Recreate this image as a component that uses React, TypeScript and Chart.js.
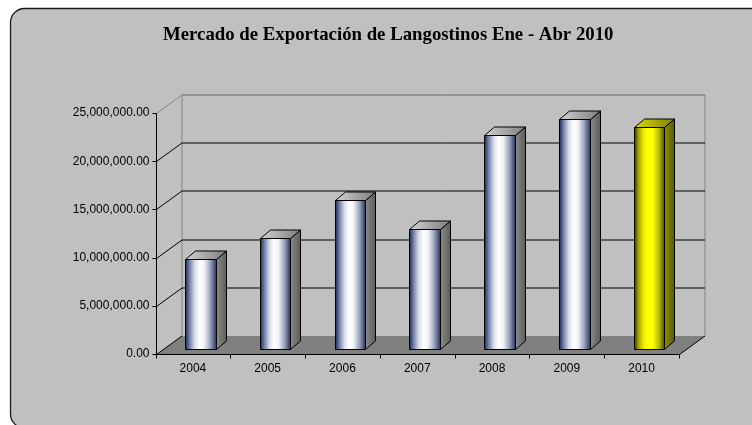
import { useEffect, useRef } from "react";
import { Chart, registerables } from "chart.js";

Chart.register(...registerables);

const TITLE = "Mercado de Exportación de Langostinos Ene - Abr 2010";
const YEARS = ["2004", "2005", "2006", "2007", "2008", "2009", "2010"];
const EXPORTS = [9300000, 11450000, 15400000, 12450000, 22200000, 23850000, 23000000];
const Y_MAX = 25000000;
const Y_STEP = 5000000;
const HIGHLIGHT_YEAR = "2010";

// 3D look parameters (styles / geometry, not data)
const DEPTH_X = 25.5;
const DEPTH_Y = 18.5;
const BAR_FRONT = 0.29;
const BAR_DX = 10;
const BAR_DY = 8.5;

const SILVER = {
  front: [
    [0, "#1b2856"],
    [0.12, "#6d7ca3"],
    [0.3, "#d8dce6"],
    [0.45, "#ffffff"],
    [0.6, "#f2f3f6"],
    [0.8, "#9aa3bd"],
    [1, "#26325e"],
  ],
  side: ["#8a8a8a", "#5c5c5c"],
  top: ["#d2d2d2", "#7c7c7c"],
};
const YELLOW = {
  front: [
    [0, "#3c3c00"],
    [0.14, "#a8a800"],
    [0.32, "#f0f000"],
    [0.45, "#ffff00"],
    [0.6, "#ffff10"],
    [0.82, "#b8b800"],
    [1, "#4a4a00"],
  ],
  side: ["#8c8c00", "#5a5a00"],
  top: ["#d8d800", "#808000"],
};

function poly(ctx: CanvasRenderingContext2D, pts: number[][]) {
  ctx.beginPath();
  ctx.moveTo(pts[0][0], pts[0][1]);
  for (let i = 1; i < pts.length; i++) ctx.lineTo(pts[i][0], pts[i][1]);
  ctx.closePath();
}

function line(ctx: CanvasRenderingContext2D, pts: number[][], color: string) {
  ctx.beginPath();
  ctx.moveTo(pts[0][0], pts[0][1]);
  for (let i = 1; i < pts.length; i++) ctx.lineTo(pts[i][0], pts[i][1]);
  ctx.strokeStyle = color;
  ctx.lineWidth = 1;
  ctx.stroke();
}

const scenePlugin = {
  id: "scene3d",
  beforeDraw(chart: any) {
    const { ctx, width, height } = chart;
    ctx.save();
    ctx.fillStyle = "#ffffff";
    ctx.fillRect(0, 0, width, height);
    const x0 = 10.5, y0 = 8.5, x1 = width + 14, y1 = height + 3;
    ctx.beginPath();
    ctx.roundRect(x0, y0, x1 - x0, y1 - y0, 14);
    ctx.fillStyle = "#c0c0c0";
    ctx.fill();
    ctx.lineWidth = 1.3;
    ctx.strokeStyle = "#1a1a1a";
    ctx.stroke();
    ctx.font = 'bold 18.8px "Liberation Serif"';
    ctx.fillStyle = "#000000";
    ctx.textAlign = "center";
    ctx.textBaseline = "alphabetic";
    ctx.fillText(TITLE, (x0 + x1) / 2, 40);
    ctx.restore();
  },
  beforeDatasetsDraw(chart: any) {
    const { ctx } = chart;
    const xs = chart.scales.x;
    const ys = chart.scales.y;
    const L = Math.round(xs.left) + 0.5;
    const R = Math.round(xs.right) + 0.5;
    const B = Math.round(ys.getPixelForValue(0)) + 0.5;
    const T = Math.round(ys.getPixelForValue(Y_MAX)) + 0.5;
    ctx.save();
    // floor
    poly(ctx, [[L, B], [R, B], [R + DEPTH_X, B - DEPTH_Y], [L + DEPTH_X, B - DEPTH_Y]]);
    ctx.fillStyle = "#808080";
    ctx.fill();
    // back wall border
    line(ctx, [[L + DEPTH_X, B - DEPTH_Y], [L + DEPTH_X, T - DEPTH_Y], [R + DEPTH_X, T - DEPTH_Y], [R + DEPTH_X, B - DEPTH_Y]], "#858585");
    // grid lines
    ys.ticks.forEach((t: any) => {
      if (t.value === 0) return;
      const y = Math.round(ys.getPixelForValue(t.value)) + 0.5;
      const c = t.value >= Y_MAX ? "#858585" : "#000000";
      line(ctx, [[L, y], [L + DEPTH_X, y - DEPTH_Y], [R + DEPTH_X, y - DEPTH_Y]], c);
    });
    // floor edges
    line(ctx, [[L, B], [L + DEPTH_X, B - DEPTH_Y]], "#000000");
    line(ctx, [[R, B], [R + DEPTH_X, B - DEPTH_Y]], "#000000");
    // axes
    line(ctx, [[L, T], [L, B], [R, B]], "#000000");
    ys.ticks.forEach((t: any) => {
      const y = Math.round(ys.getPixelForValue(t.value)) + 0.5;
      line(ctx, [[L - 4, y], [L, y]], "#000000");
    });
    const n = YEARS.length;
    for (let i = 0; i <= n; i++) {
      const bx = Math.round(xs.left + (i * (xs.right - xs.left)) / n) + 0.5;
      line(ctx, [[bx, B], [bx, B + 4]], "#000000");
    }
    ctx.restore();
  },
  afterDatasetsDraw(chart: any) {
    const { ctx } = chart;
    const meta = chart.getDatasetMeta(0);
    const fx = BAR_FRONT * DEPTH_X;
    const fy = BAR_FRONT * DEPTH_Y;
    ctx.save();
    ctx.lineWidth = 1;
    ctx.strokeStyle = "#000000";
    ctx.lineJoin = "round";
    meta.data.forEach((el: any, i: number) => {
      const { x, y, base, width } = el.getProps(["x", "y", "base", "width"], true);
      const l = Math.round(x - width / 2 + fx) + 0.5;
      const r = Math.round(x + width / 2 + fx) + 0.5;
      const t = Math.round(y - fy) + 0.5;
      const b = Math.round(base - fy) + 0.5;
      const pal = YEARS[i] === HIGHLIGHT_YEAR ? YELLOW : SILVER;
      // side face
      let g = ctx.createLinearGradient(r, 0, r + BAR_DX, 0);
      g.addColorStop(0, pal.side[0]);
      g.addColorStop(1, pal.side[1]);
      poly(ctx, [[r, t], [r + BAR_DX, t - BAR_DY], [r + BAR_DX, b - BAR_DY], [r, b]]);
      ctx.fillStyle = g;
      ctx.fill();
      ctx.stroke();
      // top face
      g = ctx.createLinearGradient(l, 0, r + BAR_DX, 0);
      g.addColorStop(0, pal.top[0]);
      g.addColorStop(1, pal.top[1]);
      poly(ctx, [[l, t], [l + BAR_DX, t - BAR_DY], [r + BAR_DX, t - BAR_DY], [r, t]]);
      ctx.fillStyle = g;
      ctx.fill();
      ctx.stroke();
      // front face
      g = ctx.createLinearGradient(l, 0, r, 0);
      pal.front.forEach((s: any) => g.addColorStop(s[0], s[1]));
      poly(ctx, [[l, t], [r, t], [r, b], [l, b]]);
      ctx.fillStyle = g;
      ctx.fill();
      ctx.stroke();
    });
    ctx.restore();
  },
};

export default function App() {
  const ref = useRef<HTMLCanvasElement>(null);
  useEffect(() => {
    if (!ref.current) return;
    const chart = new Chart(ref.current, {
      type: "bar",
      data: {
        labels: YEARS,
        datasets: [
          {
            label: "Exportación",
            data: EXPORTS,
            backgroundColor: "rgba(0,0,0,0)",
            borderWidth: 0,
            categoryPercentage: 1,
            barPercentage: 0.41,
          },
        ],
      },
      options: {
        animation: false,
        responsive: true,
        maintainAspectRatio: false,
        events: [],
        layout: { padding: { top: 113, right: 73, left: 0, bottom: 0 } },
        plugins: {
          legend: { display: false },
          title: { display: false },
          tooltip: { enabled: false },
        },
        scales: {
          x: {
            grid: { display: false, drawTicks: false },
            border: { display: false },
            ticks: {
              padding: 7,
              color: "#000000",
              font: { family: '"Liberation Sans", Arial, sans-serif', size: 12 },
            },
            afterFit: (s: any) => {
              s.height = 71;
            },
          },
          y: {
            min: 0,
            max: Y_MAX,
            grid: { display: false, drawTicks: false },
            border: { display: false },
            ticks: {
              stepSize: Y_STEP,
              padding: 6,
              color: "#000000",
              font: { family: '"Liberation Sans", Arial, sans-serif', size: 12 },
              callback: (v: any) =>
                Number(v).toLocaleString("en-US", { minimumFractionDigits: 2, maximumFractionDigits: 2 }),
            },
            afterFit: (s: any) => {
              s.width = 155.5;
            },
          },
        },
      },
      plugins: [scenePlugin],
    });
    return () => chart.destroy();
  }, []);
  return (
    <div style={{ position: "fixed", left: 0, top: 0, width: 752, height: 425 }}>
      <canvas ref={ref} />
    </div>
  );
}
